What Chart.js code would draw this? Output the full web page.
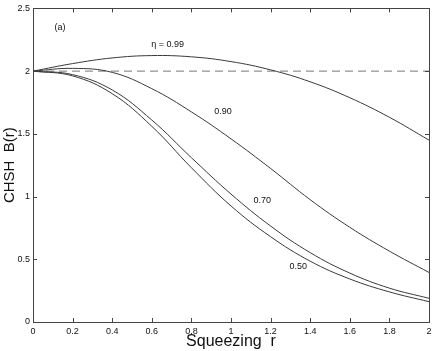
<!DOCTYPE html>
<html>
<head>
<meta charset="utf-8">
<script src="https://cdn.jsdelivr.net/npm/chart.js@4/dist/chart.umd.min.js"></script>
<style>
  html, body { margin: 0; padding: 0; background: #fff; }
  #wrap { width: 436px; height: 351px; }
</style>
</head>
<body>
<div id="wrap"><canvas id="c" width="436" height="351"></canvas></div>
<script>
// ---- data ----
const squeezing = [0, 0.2, 0.4, 0.6, 0.8, 1.0, 1.2, 1.4, 1.6, 1.8, 2.0];
const chshEta099 = [2.00, 2.06, 2.105, 2.124, 2.114, 2.076, 2.01, 1.915, 1.788, 1.632, 1.45];
const chshEta090 = [2.00, 2.022, 1.99, 1.86, 1.675, 1.46, 1.224, 0.975, 0.755, 0.565, 0.395];
const chshEta070 = [2.00, 1.972, 1.85, 1.61, 1.31, 1.02, 0.765, 0.553, 0.39, 0.27, 0.189];
const chshEta050 = [2.00, 1.962, 1.82, 1.56, 1.23, 0.925, 0.68, 0.485, 0.343, 0.24, 0.162];
const classicalBound = [2, 2];
const boundRange = [0, 2];

const xTickValues = [0, 0.2, 0.4, 0.6, 0.8, 1, 1.2, 1.4, 1.6, 1.8, 2];
const xTickLabels = ['0', '0.2', '0.4', '0.6', '0.8', '1', '1.2', '1.4', '1.6', '1.8', '2'];
const yTickValues = [0, 0.5, 1, 1.5, 2, 2.5];
const yTickLabels = ['0', '0.5', '1', '1.5', '2', '2.5'];

// curve annotations (text, r, B) in data units
const noteTexts = ['(a)', '\u03B7 = 0.99', '0.90', '0.70', '0.50'];
const noteR = [0.136, 0.68, 0.96, 1.158, 1.34];
const noteB = [2.35, 2.21, 1.68, 0.965, 0.44];

const FONT = "'Liberation Sans', Arial, Helvetica, sans-serif";
const LINE = '#3a3a3a';

const pts = (xs, ys) => xs.map((x, i) => ({ x: x, y: ys[i] }));

const curveStyle = {
  borderColor: LINE, borderWidth: 1, pointRadius: 0, showLine: true,
  fill: false, tension: 0.4
};

const framePlugin = {
  id: 'frame',
  afterDraw(chart) {
    const ctx = chart.ctx, a = chart.chartArea;
    const xs = chart.scales.x, ys = chart.scales.y;
    ctx.save();
    ctx.strokeStyle = '#444';
    ctx.lineWidth = 1;
    ctx.strokeRect(Math.round(a.left) + 0.5, Math.round(a.top) + 0.5,
                   Math.round(a.right - a.left), Math.round(a.bottom - a.top));
    const tl = 4;
    ctx.beginPath();
    xTickValues.forEach(v => {
      const px = Math.round(xs.getPixelForValue(v)) + 0.5;
      ctx.moveTo(px, a.bottom); ctx.lineTo(px, a.bottom - tl);
      ctx.moveTo(px, a.top); ctx.lineTo(px, a.top + tl);
    });
    yTickValues.forEach(v => {
      const py = Math.round(ys.getPixelForValue(v)) + 0.5;
      ctx.moveTo(a.left, py); ctx.lineTo(a.left + tl, py);
      ctx.moveTo(a.right, py); ctx.lineTo(a.right - tl, py);
    });
    ctx.stroke();
    // annotations
    ctx.fillStyle = '#111';
    ctx.font = '9px ' + FONT;
    ctx.textAlign = 'center';
    ctx.textBaseline = 'middle';
    noteTexts.forEach((t, i) => {
      ctx.fillText(t, xs.getPixelForValue(noteR[i]), ys.getPixelForValue(noteB[i]));
    });
    ctx.restore();
  }
};

new Chart(document.getElementById('c'), {
  type: 'scatter',
  data: {
    datasets: [
      Object.assign({ label: 'eta 0.99', data: pts(squeezing, chshEta099) }, curveStyle),
      Object.assign({ label: 'eta 0.90', data: pts(squeezing, chshEta090) }, curveStyle),
      Object.assign({ label: 'eta 0.70', data: pts(squeezing, chshEta070) }, curveStyle),
      Object.assign({ label: 'eta 0.50', data: pts(squeezing, chshEta050) }, curveStyle),
      { label: 'bound', data: pts(boundRange, classicalBound), showLine: true, pointRadius: 0,
        borderColor: '#777', borderWidth: 1, borderDash: [8, 5], fill: false }
    ]
  },
  options: {
    responsive: false,
    animation: false,
    devicePixelRatio: 1,
    layout: { padding: { top: 8, right: 7, left: 0, bottom: 0 } },
    plugins: { legend: { display: false }, tooltip: { enabled: false } },
    scales: {
      x: {
        type: 'linear', min: 0, max: 2,
        afterBuildTicks(s) { s.ticks = xTickValues.map(v => ({ value: v })); },
        afterFit(s) { s.height = 29; },
        grid: { display: false, drawTicks: false },
        border: { display: false },
        ticks: {
          padding: 4, color: '#111', font: { family: FONT, size: 9 },
          maxRotation: 0, autoSkip: false,
          callback: (v, i) => xTickLabels[i]
        },
        title: { display: true, text: 'Squeezing  r', color: '#111',
                 font: { family: FONT, size: 16 }, padding: { top: 0, bottom: 0 } }
      },
      y: {
        type: 'linear', min: 0, max: 2.5,
        afterBuildTicks(s) { s.ticks = yTickValues.map(v => ({ value: v })); },
        afterFit(s) { s.width = 33; },
        grid: { display: false, drawTicks: false },
        border: { display: false },
        ticks: {
          padding: 3, color: '#111', font: { family: FONT, size: 9 },
          autoSkip: false,
          callback: (v, i) => yTickLabels[i]
        },
        title: { display: true, text: 'CHSH  B(r)', color: '#111',
                 font: { family: FONT, size: 15 }, padding: { top: 1, bottom: 0 } }
      }
    }
  },
  plugins: [framePlugin]
});
</script>
</body>
</html>
